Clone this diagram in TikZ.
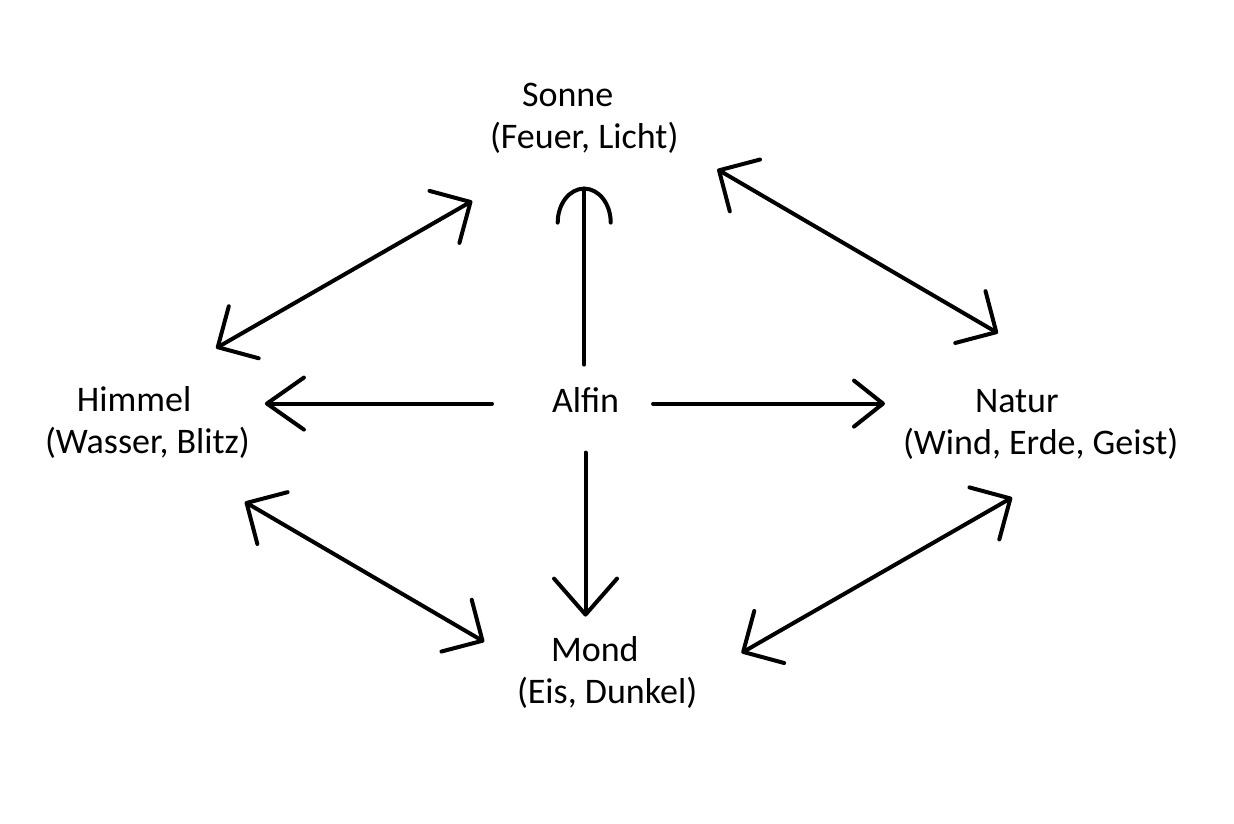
\documentclass[tikz,border=0pt]{standalone}
\usepackage{fontspec}
\setmainfont{Carlito}
\usetikzlibrary{arrows.meta}
\tikzset{
  lbl/.style={anchor=north west, inner sep=0pt, outer sep=0pt, align=left,
    font=\fontsize{36}{42}\selectfont},
  conn/.style={line width=4pt, line cap=round, line join=round, draw=black},
  cornerhd/.tip={Straight Barb[length=30pt, width=60pt, round]},
}
\newcommand{\gap}[1]{\hspace*{#1}}
\begin{document}
\begin{tikzpicture}[x=1pt, y=-1pt]
\useasboundingbox (0,0) rectangle (1234,824);
\fill[white] (0,0) rectangle (1234,824);

\node[lbl] (sonne)  at (490,77.6)  {\strut\gap{32pt}Sonne\\\strut(Feuer, Licht)};
\node[lbl] (himmel) at (45,381.6)  {\strut\gap{32pt}Himmel\\\strut(Wasser, Blitz)};
\node[lbl] (alfin)  at (552,382.6) {\strut Alfin};
\node[lbl] (natur)  at (903,382.6) {\strut\gap{72pt}Natur\\\strut(Wind, Erde, Geist)};
\node[lbl] (mond)   at (517,631.6) {\strut\gap{34pt}Mond\\\strut(Eis, Dunkel)};

% from Alfin
\draw[conn, -{Arc Barb[length=36pt, width=57pt, round]}, shorten <=18pt, shorten >=25pt]
  (sonne.south |- alfin.north) -- (sonne.south);
\draw[conn, -{Straight Barb[length=37pt, width=52pt, round]}, shorten <=60pt, shorten >=15pt]
  (alfin.west) -- (alfin.west -| himmel.east);
\draw[conn, -{Straight Barb[length=29pt, width=46pt, round]}, shorten <=34pt, shorten >=18pt]
  (alfin.east) -- (alfin.east -| natur.west);
\draw[conn, -{Straight Barb[length=36pt, width=63pt, round]}, shorten <=28pt, shorten >=15pt]
  (alfin.south) -- (alfin.south |- mond.north);

% double arrows around the ring
\draw[conn, {cornerhd}-{cornerhd}, shorten <=67pt, shorten >=79pt]
  (himmel.76.3) -- (sonne.-136.5);
\draw[conn, {cornerhd}-{cornerhd}, shorten <=45pt, shorten >=98pt]
  (sonne.-16.8) -- (natur.45);
\draw[conn, {cornerhd}-{cornerhd}, shorten <=72pt, shorten >=38pt]
  (himmel.-50.4) -- (mond.172.9);
\draw[conn, {cornerhd}-{cornerhd}, shorten <=51pt, shorten >=62pt]
  (mond.-3.8) -- (natur.-59.4);
\end{tikzpicture}
\end{document}
